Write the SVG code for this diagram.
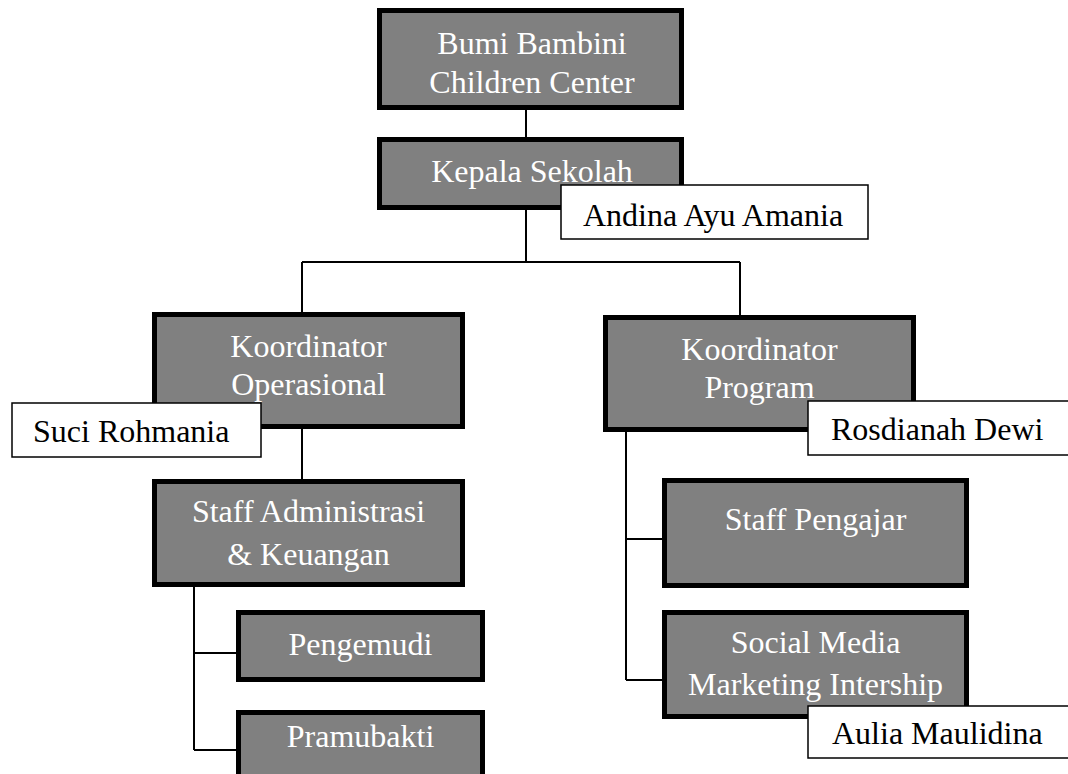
<svg xmlns="http://www.w3.org/2000/svg" width="1068" height="774" viewBox="0 0 1068 774">
<style>
.box{fill:#808080;stroke:#000;stroke-width:5}
.lbl{fill:#fff;stroke:#000;stroke-width:1.5}
.t{font-family:"Liberation Serif","Times New Roman",serif;font-size:32px;fill:#fff;text-anchor:middle}
.lt{font-family:"Liberation Serif","Times New Roman",serif;font-size:32px;fill:#000}
.c{stroke:#000;stroke-width:2;fill:none}
</style>
<rect width="1068" height="774" fill="#fff"/>
<g id="connectors">
<path class="c" d="M526,110V137M526,210V262M302,262H740M302,262V312M740,262V315M302,429V479M194,587V750M194,653H236M194,750H236M626,432V680M626,539H662M626,680H662"/>
</g>
<g id="n-bumi"><rect class="box" x="379.5" y="10.5" width="302" height="97"/><text class="t" x="532" y="54">Bumi Bambini</text><text class="t" x="532" y="93">Children Center</text></g>
<g id="n-kepala"><rect class="box" x="379.5" y="139.5" width="302" height="68"/><text class="t" x="532" y="182">Kepala Sekolah</text></g>
<g id="n-koordop"><rect class="box" x="154.5" y="314.5" width="308" height="112"/><text class="t" x="308.5" y="357">Koordinator</text><text class="t" x="308.5" y="395">Operasional</text></g>
<g id="n-staffadm"><rect class="box" x="154.5" y="481.5" width="308" height="103"/><text class="t" x="308.5" y="522">Staff Administrasi</text><text class="t" x="308.5" y="565">&amp; Keuangan</text></g>
<g id="n-pengemudi"><rect class="box" x="238.5" y="612.5" width="244" height="67"/><text class="t" x="360.5" y="655">Pengemudi</text></g>
<g id="n-pramubakti"><rect class="box" x="238.5" y="712.5" width="244" height="70"/><text class="t" x="360.5" y="747">Pramubakti</text></g>
<g id="n-koordprog"><rect class="box" x="605.5" y="317.5" width="308" height="112"/><text class="t" x="759.5" y="360">Koordinator</text><text class="t" x="759.5" y="398">Program</text></g>
<g id="n-pengajar"><rect class="box" x="664.5" y="480.5" width="302" height="105"/><text class="t" x="815.5" y="530">Staff Pengajar</text></g>
<g id="n-socmed"><rect class="box" x="664.5" y="612.5" width="302" height="104"/><text class="t" x="815.5" y="653">Social Media</text><text class="t" x="815.5" y="695">Marketing Intership</text></g>
<g id="l-andina"><rect class="lbl" x="561" y="185" width="307" height="54"/><text class="lt" x="583" y="226">Andina Ayu Amania</text></g>
<g id="l-suci"><rect class="lbl" x="12" y="403" width="249" height="54"/><text class="lt" x="33" y="442">Suci Rohmania</text></g>
<g id="l-rosdianah"><rect class="lbl" x="808" y="401" width="270" height="54"/><text class="lt" x="831" y="440">Rosdianah Dewi</text></g>
<g id="l-aulia"><rect class="lbl" x="808" y="706" width="270" height="52"/><text class="lt" x="832" y="744">Aulia Maulidina</text></g>
</svg>
